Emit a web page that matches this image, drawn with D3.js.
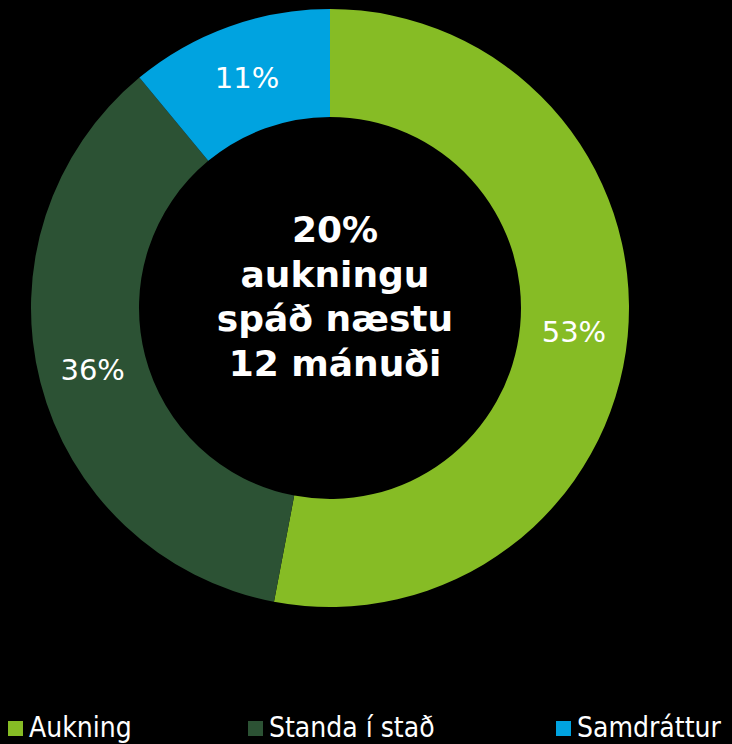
<!DOCTYPE html>
<html>
<head>
<meta charset="utf-8">
<script src="https://cdn.jsdelivr.net/npm/d3@7"></script>
<style>
	html, body { margin: 0; padding: 0; background: #000; }
	svg { display: block; font-family: "DejaVu Sans", Verdana, sans-serif; }
</style>
</head>
<body>
<svg id="donut" width="732" height="744"></svg>
<script>
// chart data
const categories = ["Aukning", "Standa í stað", "Samdráttur"];
const values = [53, 36, 11];
const colors = ["#86bc25", "#2c5234", "#00a3e0"];
const centerLines = ["20%", "aukningu", "spáð næstu", "12 mánuði"];

let svg = d3.select("#donut");
let cx = 330, cy = 308;
let outerR = 299, innerR = 191;

let pie = d3.pie().sort(null).value(function (d) { return d; });
let arc = d3.arc().innerRadius(innerR).outerRadius(outerR);
let color = d3.scaleOrdinal().domain(categories).range(colors);

let g = svg.append("g")
	.attr("transform", "translate(" + cx + "," + cy + ")");

let slices = pie(values);

g.selectAll(".slice")
	.data(slices)
	.enter()
	.append("path")
	.attr("class", "slice")
	.attr("d", arc)
	.attr("fill", function (d, i) { return color(categories[i]); });

g.selectAll(".slice_label")
	.data(slices)
	.enter()
	.append("text")
	.attr("class", "slice_label")
	.attr("transform", function (d) { return "translate(" + arc.centroid(d) + ")"; })
	.attr("dy", "0.37em")
	.attr("text-anchor", "middle")
	.attr("fill", "#fff")
	.style("font-size", "29px")
	.text(function (d) { return d.value + "%"; });

// centre text
let baseY = -66, lineH = 44.5;
g.selectAll(".center_line")
	.data(centerLines)
	.enter()
	.append("text")
	.attr("class", "center_line")
	.attr("x", 5)
	.attr("y", function (d, i) { return baseY + i * lineH; })
	.attr("text-anchor", "middle")
	.attr("fill", "#fff")
	.style("font-size", "36px")
	.style("font-weight", "bold")
	.text(function (d) { return d; });

// legend
let legendX = d3.scaleOrdinal().domain(categories).range([8, 248, 556]);

let legend = svg.selectAll(".legend_item")
	.data(categories)
	.enter()
	.append("g")
	.attr("class", "legend_item")
	.attr("transform", function (d) { return "translate(" + legendX(d) + ",721)"; });

legend.append("rect")
	.attr("width", 15)
	.attr("height", 15)
	.attr("fill", function (d) { return color(d); });

legend.append("text")
	.attr("x", 21)
	.attr("y", 16)
	.attr("fill", "#fff")
	.style("font-family", "'DejaVu Sans Condensed', 'DejaVu Sans', sans-serif")
	.style("font-stretch", "condensed")
	.style("font-size", "28px")
	.text(function (d) { return d; });
</script>
</body>
</html>
